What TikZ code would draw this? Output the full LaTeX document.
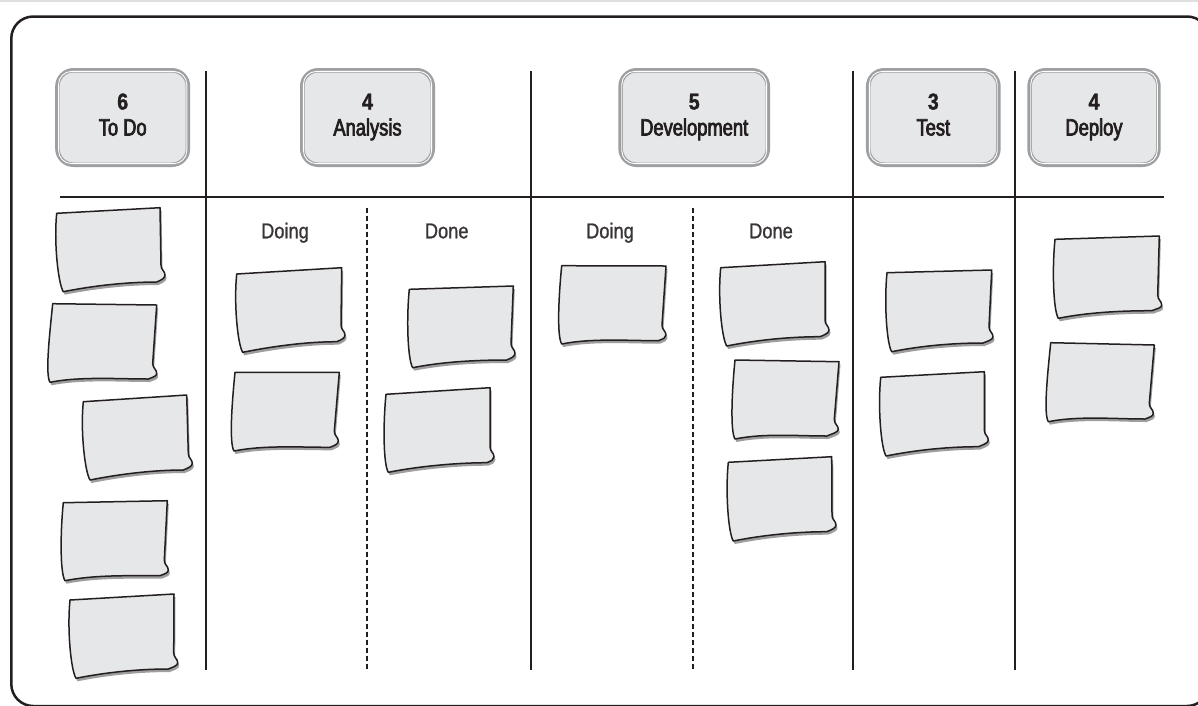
\documentclass[tikz,border=0pt]{standalone}
\usepackage{fontspec}
\setmainfont{Liberation Sans}[FakeStretch=0.85]
\newfontfamily\hdrfont{Liberation Sans}[FakeStretch=0.78, FakeBold=3]
\newfontfamily\numfont{Liberation Sans Bold}[FakeStretch=0.85, FakeBold=1.5]
\newfontfamily\subfont{Liberation Sans}[FakeStretch=0.85, FakeBold=1]
\usetikzlibrary{calc}
\definecolor{ink}{HTML}{231F20}
\definecolor{notegray}{HTML}{E6E7E8}
\definecolor{hdrborder}{HTML}{9D9FA2}
\newcommand\stickynote[6]{%
  \coordinate (#1-tl) at (#2);
  \coordinate (#1-tr) at (#3);
  \coordinate (#1-br) at (#4);
  \coordinate (#1-c) at (#5);
  \coordinate (#1-bl) at (#6);
  \coordinate (#1-p) at ($(#1-br)+(-4,-10)$);
  \def\notepath{(#1-tl) -- (#1-tr) -- (#1-p)
    .. controls ($(#1-p)+(0,5)$) and ($(#1-br)+(0,-4)$) .. (#1-br)
    .. controls ($(#1-br)+(0,3)$) and ($(#1-c)+(5,-2)$) .. (#1-c)
    .. controls ($(#1-c)+(-30,0)$) and ($(#1-bl)+(30,-6)$) .. (#1-bl)
    .. controls ($(#1-bl)+(-5,-8)$) and ($(#1-tl)+(-3,30)$) .. (#1-tl) -- cycle}%
  \begin{scope}[transform canvas={shift={(1.5pt,-3pt)}}]
    \fill[notesh] \notepath;
  \end{scope}
  \draw[notefill] \notepath;
}
\begin{document}
\begin{tikzpicture}[x=1pt,y=-1pt,
  frame/.style={draw=ink, line width=2.5pt, rounded corners=22pt},
  rule/.style={draw=ink, line width=2pt},
  dashrule/.style={draw=ink, line width=2pt, dash pattern=on 5pt off 3pt},
  hdrbox/.style={draw=hdrborder, line width=4.5pt, fill=notegray, rounded corners=16pt, minimum height=94.5pt, inner sep=0pt},
  hdrinner/.style={draw=white, line width=0.9pt, rounded corners=13pt},
  numtxt/.style={font=\fontsize{23}{26}\numfont, text=ink, inner sep=0pt, anchor=base},
  nametxt/.style={font=\fontsize{23.5}{26}\hdrfont, text=ink, inner sep=0pt, anchor=base},
  subtxt/.style={font=\fontsize{21.5}{26}\subfont, text=ink!90, inner sep=0pt, anchor=base},
  notefill/.style={draw=ink, line width=1.5pt, fill=notegray, line join=round},
  notesh/.style={fill=black!38}]
\useasboundingbox (0,0) rectangle (1198,705);
\clip (0,0) rectangle (1198,705);
\fill[white] (0,0) rectangle (1198,705);
\draw[gray!25, line width=1.5pt] (0,0.75) -- (1198,0.75);
\draw[frame] (11.3,16.5) rectangle (1209,706);

% header boxes
\foreach \nm/\cx/\w/\num/\lbl in {todo/122.7/130.5/6/To Do, ana/367.5/130.5/4/Analysis, dev/694.2/147.2/5/Development, test/933.3/130.2/3/Test, dep/1094/128.9/4/Deploy}{
  \node[hdrbox, minimum width=\w pt] (\nm) at (\cx,117.5) {};
  \draw[hdrinner] ($(\nm.north west)+(3.4,3.4)$) rectangle ($(\nm.south east)+(-3.4,-3.4)$);
  \node[numtxt] (\nm-num) at (\cx,109.5) {\num};
  \node[nametxt] (\nm-lbl) at (\cx,135.5) {\lbl};
}

% board lines
\draw[rule] (60,196.7) -- (1163.5,196.7);
\foreach \x in {206,531,853.3,1014.5}{\draw[rule] (\x,71) -- (\x,670);}
\foreach \x in {366.7,693.3}{\draw[dashrule] (\x,208) -- (\x,670);}

% sub labels
\node[subtxt] (ana-doing) at (285,238.3) {Doing};
\node[subtxt] (ana-done) at (446.7,238.3) {Done};
\node[subtxt] (dev-doing) at (610,238.3) {Doing};
\node[subtxt] (dev-done) at (771,238.3) {Done};

% sticky notes
\stickynote{a}{56.7,213.3}{160,207.7}{165,275}{156.7,282}{63.3,291.7}
\stickynote{b}{52.7,303.7}{156.7,305}{156.7,373.3}{148.3,379}{50,382.3}
\stickynote{c}{83.3,401.7}{186.7,395}{192.3,463.3}{183.3,470}{90,480}
\stickynote{d}{63.3,502.7}{167.3,500.7}{168.3,570}{160,575.7}{65,580.7}
\stickynote{e}{70,600}{174,594}{177.7,662.7}{168.3,669}{76,678.3}
\stickynote{f}{236.7,274}{341.7,267.7}{345,335}{336.7,341.7}{242.7,352.3}
\stickynote{g}{235,372.3}{339.3,372.3}{338.3,441}{330,447.3}{234,451}
\stickynote{h}{409.3,289.3}{513.3,286}{515,353.3}{506.7,360}{412.7,367.7}
\stickynote{i}{386,394.3}{490,387.7}{494,456.7}{486.7,462.7}{388.3,472.3}
\stickynote{j}{561.7,265.7}{666,266}{666,335}{658.3,340.7}{561.7,344}
\stickynote{k}{720.7,267.7}{825,261.7}{829,330}{820,336.7}{726.7,346}
\stickynote{l}{735,360}{839,361.7}{838.3,429.3}{826.7,436}{735,439}
\stickynote{m}{728.3,462.3}{831.7,456.7}{836,525}{826.7,531.7}{733.3,541}
\stickynote{n}{887,272.7}{991.7,270}{993,336.7}{983,343}{891.7,351.7}
\stickynote{o}{880.7,377.3}{984.3,371.7}{988.3,440}{978.3,446.7}{886,456}
\stickynote{p}{1055,239.3}{1159.3,236}{1161.7,305}{1151.7,310.7}{1058.3,318.3}
\stickynote{q}{1050.7,342.7}{1154.3,345}{1153.3,413.3}{1145,419}{1048.3,421.7}
\end{tikzpicture}
\end{document}
